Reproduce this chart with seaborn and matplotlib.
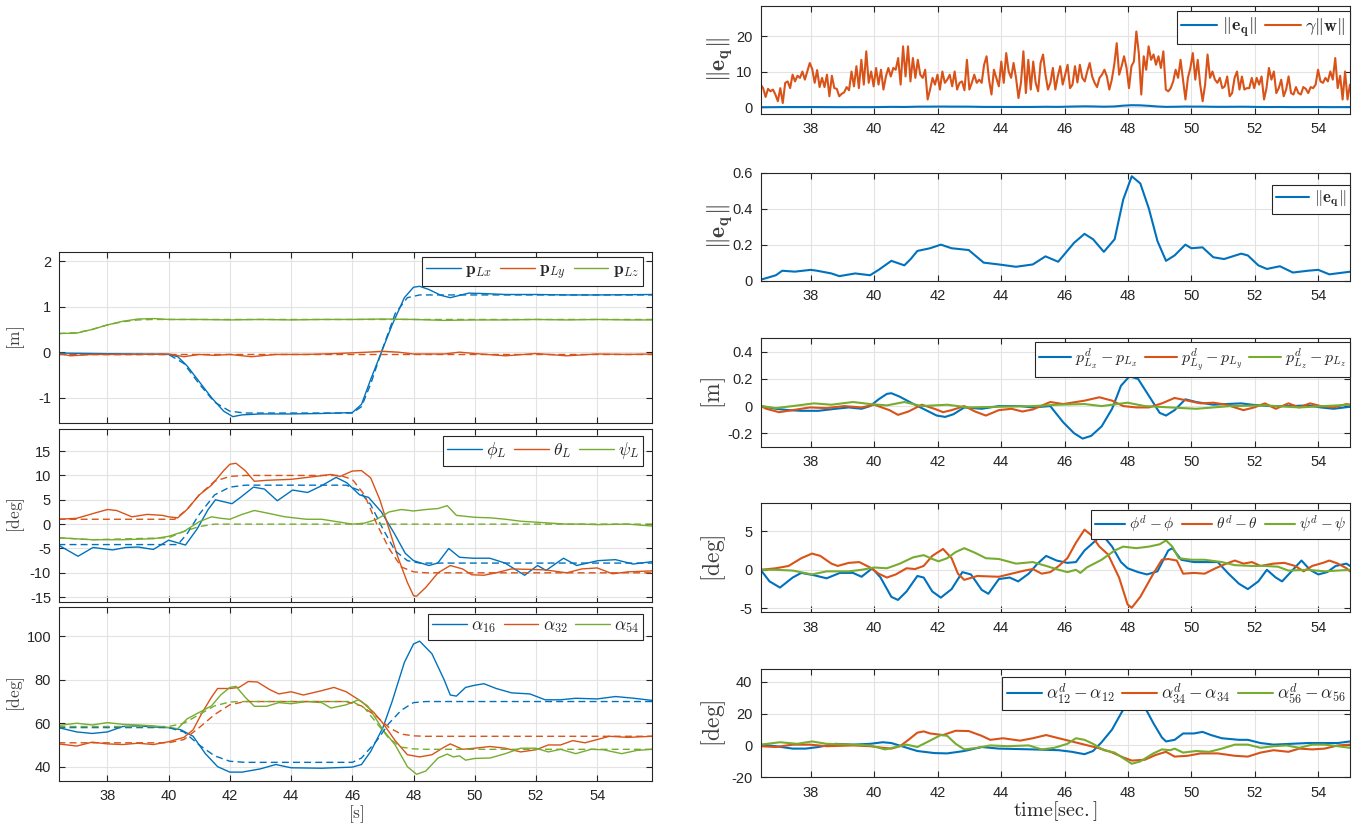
import numpy as np
import matplotlib
matplotlib.use("Agg")
import matplotlib.pyplot as plt
import seaborn as sns

# ---------------- data ----------------
# left column, panel 1: load position [m]
plx_t = [36.4, 40.0, 40.3, 40.6, 41.0, 41.4, 41.8, 42.1, 42.4, 43.0, 44.0, 45.0, 46.0, 46.3, 46.6, 46.95,
         47.3, 47.7, 48.0, 48.2, 48.5, 48.9, 49.2, 49.5, 49.8, 50.3, 51.0, 52.0, 53.0, 54.0, 55.8]
plx_v = [-0.02, -0.05, -0.1, -0.3, -0.65, -1.0, -1.3, -1.42, -1.38, -1.36, -1.36, -1.35, -1.33, -1.15, -0.6, 0.0,
         0.6, 1.2, 1.43, 1.45, 1.38, 1.25, 1.2, 1.25, 1.3, 1.29, 1.27, 1.27, 1.26, 1.26, 1.27]
plx_ref_t = [36.4, 40.0, 40.5, 41.0, 41.5, 42.0, 42.5, 46.0, 46.3, 46.6, 47.0, 47.4, 47.8, 48.2, 55.8]
plx_ref_v = [-0.05, -0.05, -0.25, -0.7, -1.1, -1.3, -1.34, -1.34, -1.2, -0.7, 0.1, 0.85, 1.2, 1.26, 1.26]
ply_t = [36.4, 36.8, 37.5, 39.0, 40.0, 40.5, 41.0, 41.5, 42.0, 42.7, 43.5, 44.5, 45.5, 46.5, 47.0, 47.5,
         48.0, 49.0, 49.5, 50.0, 51.0, 52.0, 53.0, 54.0, 55.0, 55.8]
ply_v = [-0.03, -0.08, -0.05, -0.05, -0.04, -0.1, -0.05, -0.07, -0.05, -0.1, -0.05, -0.05, -0.03, 0.0, 0.02, 0.0,
         -0.04, -0.04, 0.0, -0.03, -0.08, -0.03, -0.08, -0.04, -0.05, -0.04]
ply_ref_t = [36.4, 55.8]
ply_ref_v = [-0.05, -0.05]
plz_t = [36.4, 37.0, 37.5, 38.0, 38.5, 39.0, 39.5, 40.0, 41.0, 42.0, 43.0, 44.0, 45.0, 46.0, 47.0, 48.0,
         49.0, 50.0, 51.0, 52.0, 53.0, 54.0, 55.0, 55.8]
plz_v = [0.41, 0.42, 0.5, 0.6, 0.68, 0.73, 0.74, 0.72, 0.72, 0.71, 0.72, 0.71, 0.72, 0.72, 0.73, 0.72,
         0.7, 0.71, 0.71, 0.72, 0.71, 0.72, 0.71, 0.71]
plz_ref_t = [36.4, 37.0, 37.5, 38.0, 38.5, 39.0, 39.5, 40.0, 55.8]
plz_ref_v = [0.41, 0.43, 0.5, 0.6, 0.67, 0.71, 0.72, 0.72, 0.72]

# left column, panel 2: load attitude [deg]
phi_t = [36.4, 37.04, 37.53, 38.17, 38.6, 39.0, 39.5, 40.0, 40.55, 40.93, 41.29, 41.53, 42.07, 42.35, 42.77,
         43.13, 43.55, 44.05, 44.54, 44.97, 45.47, 45.82, 46.24, 46.53, 46.95, 47.38, 47.73, 48.0, 48.5, 48.79,
         49.15, 49.5, 49.93, 50.49, 50.99, 51.63, 52.05, 52.33, 52.9, 53.33, 54.03, 54.6, 55.17, 55.8]
phi_v = [-4.3, -6.6, -4.8, -5.3, -4.8, -4.7, -5.2, -3.3, -4.3, -1.0, 3.0, 5.0, 4.2, 5.5, 7.6,
         7.2, 4.8, 7.0, 6.5, 7.8, 9.6, 8.5, 6.0, 5.5, 2.5, -2.0, -6.0, -7.5, -8.5, -8.0,
         -5.0, -6.8, -7.0, -7.0, -8.0, -10.5, -8.5, -9.5, -7.0, -8.5, -7.5, -7.3, -8.2, -7.7]
phi_ref_t = [36.4, 40.3, 40.6, 41.0, 41.5, 42.0, 42.5, 45.8, 46.2, 46.6, 47.0, 47.4, 47.8, 48.2, 55.8]
phi_ref_v = [-4.2, -4.2, -2.0, 2.0, 6.0, 7.6, 8.0, 8.0, 7.0, 4.0, -1.0, -5.5, -7.5, -8.0, -8.0]
theta_t = [36.4, 37.0, 37.6, 38.0, 38.3, 38.8, 39.3, 39.8, 40.0, 40.3, 40.6, 41.0, 41.4, 41.8, 42.0, 42.2,
           42.5, 42.8, 43.2, 44.0, 44.8, 45.3, 45.6, 46.0, 46.3, 46.6, 46.9, 47.2, 47.5, 47.8, 48.0, 48.1,
           48.4, 48.8, 49.2, 49.6, 49.9, 50.3, 50.7, 51.2, 51.8, 52.3, 53.0, 53.5, 54.0, 54.5, 55.0, 55.8]
theta_v = [1.0, 1.2, 2.3, 3.0, 2.8, 1.5, 2.0, 1.8, 1.5, 1.3, 3.0, 6.0, 8.0, 11.0, 12.3, 12.5,
           11.0, 8.8, 9.0, 9.2, 9.8, 10.2, 9.8, 10.9, 11.0, 9.5, 5.0, -1.0, -7.0, -12.0, -14.7, -14.8,
           -13.0, -10.0, -8.5, -9.2, -10.4, -10.5, -10.0, -9.2, -9.3, -9.4, -10.0, -9.2, -9.0, -10.2, -9.8, -9.6]
theta_ref_t = [36.4, 40.2, 40.6, 41.0, 41.5, 42.0, 42.5, 45.6, 46.0, 46.4, 46.8, 47.2, 47.6, 48.0, 48.4, 55.8]
theta_ref_v = [1.0, 1.0, 3.0, 6.0, 8.8, 9.8, 10.0, 10.0, 9.2, 6.0, 0.0, -5.0, -8.8, -9.8, -10.0, -10.0]
psi_t = [36.4, 37.5, 38.5, 39.5, 40.0, 40.5, 41.0, 41.4, 41.7, 42.0, 42.4, 42.8, 43.2, 43.8, 44.5, 45.0,
         45.5, 46.0, 46.4, 46.8, 47.2, 47.6, 48.0, 48.4, 48.8, 49.1, 49.4, 50.0, 50.5, 51.0, 51.5, 52.0,
         52.5, 53.0, 53.5, 54.0, 55.0, 55.8]
psi_v = [-2.8, -3.2, -3.2, -3.0, -2.5, -1.5, 0.5, 1.5, 1.2, 1.0, 2.0, 2.8, 2.3, 1.5, 1.0, 1.0,
         0.5, 0.0, 0.2, 1.0, 2.5, 3.0, 2.7, 3.0, 3.2, 3.8, 1.8, 1.4, 1.3, 1.0, 0.6, 0.4,
         0.2, 0.0, 0.0, -0.1, 0.0, -0.4]
psi_ref_t = [36.4, 37.5, 40.0, 40.5, 41.0, 41.5, 55.8]
psi_ref_v = [-2.8, -3.2, -2.8, -1.5, -0.5, 0.0, 0.0]

# left column, panel 3: cable angles [deg]
a16_t = [36.4, 37.0, 37.5, 38.0, 38.5, 39.0, 39.5, 40.0, 40.4, 40.8, 41.2, 41.6, 42.0, 42.4, 43.0, 43.5,
         44.0, 45.0, 46.0, 46.3, 46.6, 47.0, 47.3, 47.7, 48.0, 48.2, 48.6, 49.0, 49.2, 49.4, 49.7, 50.0,
         50.3, 50.7, 51.2, 51.8, 52.3, 52.8, 53.3, 54.0, 54.6, 55.2, 55.8]
a16_v = [58, 56, 55.3, 56, 58.5, 58.8, 58.3, 58.0, 57, 54, 46, 40, 37.5, 37.5, 39, 41,
         39.5, 39.3, 39.8, 41, 47, 58, 70, 88, 96.5, 97.8, 92, 80, 73, 72.5, 76.5, 77.5,
         78.2, 76, 74, 73.5, 70.8, 70.8, 71.5, 71.2, 72.3, 71.5, 70.5]
a16_ref_t = [36.4, 40.0, 40.5, 41.0, 41.5, 42.0, 42.5, 46.0, 46.3, 46.8, 47.2, 47.6, 48.0, 48.4, 55.8]
a16_ref_v = [58, 58, 56, 50, 45, 42.5, 42, 42, 44, 52, 60, 66, 69.5, 70, 70]
a32_t = [36.4, 37.0, 37.5, 38.0, 38.5, 39.0, 39.5, 40.0, 40.5, 40.8, 41.1, 41.4, 41.6, 42.0, 42.3, 42.6,
         42.9, 43.3, 43.6, 44.0, 44.4, 45.0, 45.4, 45.8, 46.3, 46.7, 47.0, 47.4, 47.8, 48.2, 48.6, 49.0,
         49.2, 49.6, 50.0, 50.5, 51.0, 51.5, 52.0, 52.4, 52.8, 53.2, 53.6, 54.0, 54.4, 55.0, 55.8]
a32_v = [50.5, 49.5, 51.3, 50.5, 50.2, 50.8, 50.2, 51.5, 53.5, 57, 65, 72, 76, 76, 76.5, 79.2,
         79, 75.5, 73.5, 74.5, 73, 75, 76.5, 74.5, 70, 65, 60, 52, 45.5, 44.5, 45.5, 49,
         50.5, 48.0, 48.5, 49.3, 48.5, 46.8, 47.8, 50, 50, 52, 51, 52.5, 54, 53.5, 54]
a32_ref_t = [36.4, 40.0, 40.5, 41.0, 41.5, 42.0, 42.5, 45.8, 46.3, 46.8, 47.2, 47.6, 48.0, 48.4, 55.8]
a32_ref_v = [51, 51, 52.5, 58, 64, 68.5, 70, 70, 68, 63, 58, 55, 54.2, 54, 54]
a54_t = [36.4, 37.0, 37.5, 38.0, 38.5, 39.0, 39.5, 40.0, 40.3, 40.6, 41.0, 41.4, 41.7, 42.0, 42.2, 42.5,
         42.8, 43.2, 43.6, 44.0, 44.5, 45.0, 45.3, 45.8, 46.2, 46.5, 47.0, 47.4, 47.8, 48.1, 48.4, 48.8,
         49.1, 49.3, 49.5, 49.7, 50.0, 50.5, 51.0, 51.5, 52.0, 52.4, 52.8, 53.3, 53.8, 54.2, 54.8, 55.3, 55.8]
a54_v = [59, 60.0, 59.2, 60.3, 59.5, 59.2, 58.8, 58, 57.5, 62, 65, 68, 73, 76.5, 77, 72,
         67.8, 67.8, 69.5, 69, 70, 69.5, 67, 68.5, 70.8, 68, 57, 50, 40, 36.5, 38, 44,
         45.8, 44.5, 45, 43, 43.8, 44, 46, 48.5, 48.5, 46.8, 48, 46, 48, 47.8, 46, 47.5, 48]
a54_ref_t = [36.4, 40.0, 40.5, 41.0, 41.5, 42.0, 42.5, 46.0, 46.4, 46.8, 47.2, 47.6, 48.0, 48.4, 55.8]
a54_ref_v = [58.5, 58.5, 60, 64, 68, 69.8, 70, 70, 67, 60, 53, 49, 48.2, 48, 48]

# right column, panel A/B: ||e_q|| and gamma ||w||
eq_t = [36.42, 36.9, 37.1, 37.5, 38.0, 38.2, 38.65, 38.9, 39.4, 39.87, 40.14, 40.54, 40.95, 41.15, 41.36,
        41.76, 42.1, 42.44, 42.98, 43.45, 43.93, 44.47, 45.0, 45.4, 45.8, 46.3, 46.63, 46.9, 47.24, 47.58,
        47.85, 48.12, 48.39, 48.66, 48.93, 49.2, 49.47, 49.81, 50.0, 50.35, 50.69, 51.03, 51.57, 51.78,
        52.11, 52.38, 52.79, 53.2, 53.67, 54.0, 54.35, 55.02]
eq_v = [0.005, 0.03, 0.055, 0.05, 0.06, 0.055, 0.04, 0.025, 0.04, 0.03, 0.06, 0.11, 0.085, 0.12, 0.165,
        0.18, 0.20, 0.18, 0.17, 0.10, 0.09, 0.077, 0.09, 0.135, 0.105, 0.21, 0.26, 0.23, 0.16, 0.23,
        0.45, 0.58, 0.54, 0.40, 0.22, 0.11, 0.14, 0.20, 0.18, 0.185, 0.13, 0.12, 0.15, 0.14,
        0.085, 0.065, 0.08, 0.045, 0.055, 0.06, 0.035, 0.05]
gw_v = [6.4, 5.4, 2.9, 5.2, 4.5, 5.0, 3.6, 1.7, 5.4, 1.2, 6.9, 7.3, 5.4, 9.2, 7.3, 8.9, 8.3, 10.1, 7.8, 10.1,
        12.5, 10.8, 6.9, 10.5, 5.7, 8.3, 5.7, 9.2, 3.1, 8.9, 5.4, 5.2, 3.1, 3.8, 4.2, 5.7, 4.8, 10.1, 5.9, 11.6,
        5.4, 13.4, 6.4, 15.8, 6.9, 10.1, 5.9, 11.1, 6.4, 10.6, 5.0, 8.7, 11.1, 8.7, 11.1, 10.6, 13.9, 6.4, 17.2,
        8.7, 17.2, 7.3, 13.9, 8.3, 13.4, 9.2, 8.3, 10.6, 2.2, 5.0, 8.3, 6.4, 9.2, 5.0, 10.1, 6.9, 7.8, 9.2, 5.9,
        10.1, 5.0, 6.9, 7.3, 4.8, 13.4, 5.0, 6.9, 9.2, 6.9, 7.8, 6.9, 12.0, 14.4, 7.8, 3.6, 10.6, 8.3, 5.9,
        12.9, 6.9, 15.3, 10.1, 8.3, 12.5, 8.3, 2.6, 6.9, 15.8, 4.0, 13.4, 5.0, 12.9, 6.9, 4.5, 12.5, 14.9, 9.2,
        5.0, 6.9, 11.1, 5.0, 8.7, 11.6, 6.4, 9.2, 12.0, 5.4, 6.4, 11.6, 7.0, 12.0, 8.3, 7.3, 10.1, 12.5, 8.7,
        6.9, 5.7, 8.3, 9.2, 10.6, 8.7, 5.0, 7.8, 12.0, 18.1, 9.2, 11.6, 14.4, 11.1, 5.4, 11.6, 12.9, 21.4,
        15.3, 3.6, 14.4, 10.6, 17.2, 13.4, 14.9, 12.0, 14.4, 11.1, 15.8, 5.0, 4.5, 5.4, 7.3, 10.6, 8.3, 13.4,
        7.8, 2.2, 8.3, 11.1, 15.3, 7.8, 13.4, 6.4, 1.7, 6.4, 14.9, 8.3, 10.1, 7.8, 6.9, 8.3, 5.4, 5.9, 8.7,
        3.1, 4.0, 8.3, 10.1, 5.0, 8.7, 5.0, 5.4, 5.4, 8.3, 5.4, 8.3, 6.4, 8.7, 2.2, 5.4, 11.1, 7.8, 10.1, 4.0,
        5.4, 7.8, 3.1, 5.0, 8.7, 4.0, 3.6, 5.7, 4.0, 3.6, 5.7, 5.2, 4.0, 5.7, 5.4, 6.4, 10.6, 7.3, 6.9, 8.3,
        7.3, 10.1, 7.8, 13.9, 5.4, 8.9, 2.2, 10.1, 2.2, 6.4]
gw_t = np.linspace(36.42, 55.0, len(gw_v))  # sampling grid

# right column, panel C: position errors [m]
ex_t = [36.42, 36.9, 37.3, 37.7, 38.24, 38.78, 39.2, 39.6, 39.87, 40.14, 40.4, 40.54, 40.8, 41.2, 41.63,
        41.97, 42.24, 42.5, 42.84, 43.39, 43.93, 44.6, 45.0, 45.55, 45.96, 46.3, 46.57, 46.84, 47.17, 47.5,
        47.78, 48.05, 48.32, 48.73, 49.0, 49.2, 49.47, 49.81, 50.15, 50.69, 51.1, 51.57, 51.91, 52.45,
        53.13, 53.67, 54.08, 54.48, 55.0]
ex_v = [0.0, -0.02, -0.03, -0.035, -0.035, -0.02, -0.01, -0.02, 0.0, 0.05, 0.09, 0.095, 0.07, 0.02, -0.03,
        -0.07, -0.08, -0.06, -0.01, -0.02, 0.0, 0.0, -0.01, 0.0, -0.12, -0.2, -0.24, -0.22, -0.15, -0.02,
        0.15, 0.22, 0.2, 0.05, -0.05, -0.07, -0.03, 0.05, 0.03, 0.01, 0.015, 0.02, 0.01, 0.0,
        0.0, 0.005, -0.01, -0.02, -0.005]
ey_t = [36.42, 36.6, 37.0, 37.43, 37.97, 38.5, 39.06, 39.6, 40.0, 40.48, 40.75, 41.08, 41.5, 41.9, 42.17,
        42.44, 42.84, 43.18, 43.52, 43.93, 44.33, 44.67, 45.0, 45.55, 45.96, 46.63, 47.1, 47.5, 47.85, 48.26,
        48.66, 49.07, 49.47, 49.88, 50.29, 50.69, 51.1, 51.64, 51.98, 52.32, 52.66, 53.06, 53.4, 53.74,
        54.08, 54.48, 54.89, 55.0]
ey_v = [0.0, -0.02, -0.045, -0.03, -0.01, -0.015, 0.0, -0.01, 0.01, -0.03, -0.065, -0.04, 0.01, -0.02, -0.045,
        -0.03, 0.0, -0.04, -0.07, -0.03, -0.02, -0.04, -0.025, 0.03, 0.015, 0.04, 0.065, 0.04, 0.0, -0.01,
        -0.01, 0.02, 0.06, 0.04, 0.02, 0.025, 0.01, -0.03, -0.01, 0.02, -0.02, 0.02, -0.01, 0.02,
        0.0, -0.01, 0.015, 0.01]
ez_t = [36.42, 36.9, 37.43, 38.1, 38.65, 39.33, 39.87, 40.4, 40.95, 41.5, 42.3, 42.98, 43.93, 45.0, 45.8,
        46.63, 47.17, 47.99, 48.53, 49.34, 50.15, 51.23, 52.32, 53.4, 54.2, 55.0]
ez_v = [0.0, -0.015, 0.0, 0.02, 0.01, 0.03, 0.015, 0.005, 0.03, 0.0, 0.01, -0.01, -0.005, 0.0, 0.01,
        0.015, 0.0, 0.025, 0.0, -0.01, -0.02, 0.0, 0.005, -0.01, 0.0, 0.01]

# right column, panel D: attitude errors [deg]
ephi_t = [36.42, 36.7, 37.03, 37.43, 37.7, 38.1, 38.5, 38.92, 39.33, 39.6, 39.94, 40.2, 40.54, 40.75, 41.02,
          41.36, 41.56, 41.83, 42.1, 42.44, 42.78, 43.05, 43.39, 43.6, 43.93, 44.27, 44.54, 44.87, 45.15,
          45.42, 45.75, 46.09, 46.36, 46.63, 47.04, 47.24, 47.5, 47.78, 47.99, 48.32, 48.6, 48.93, 49.27,
          49.4, 49.68, 50.08, 50.42, 50.83, 51.17, 51.5, 51.78, 52.11, 52.38, 52.66, 52.86, 53.2, 53.47,
          53.74, 54.0, 54.28, 54.55, 54.89, 55.0]
ephi_v = [0.0, -1.5, -2.3, -1.0, -0.4, -0.7, -1.1, -0.4, -0.4, -0.9, 0.2, -1.0, -3.5, -3.9, -2.8,
          -0.8, -1.0, -2.8, -3.6, -2.5, -0.3, -0.6, -2.6, -3.1, -1.2, -1.0, -1.5, -0.5, 0.8,
          1.8, 1.2, 0.9, 1.0, 2.5, 4.0, 4.3, 3.0, 1.0, 0.2, -0.3, -0.6, -0.2, 2.5,
          2.8, 1.3, 1.0, 1.0, 1.0, -0.5, -1.8, -2.5, -1.5, 0.0, -1.0, -1.5, 0.0, 1.2,
          0.0, -0.6, -0.3, 0.5, 0.8, 0.5]
etheta_t = [36.42, 36.9, 37.3, 37.7, 38.04, 38.3, 38.65, 38.85, 39.2, 39.53, 39.87, 40.14, 40.4, 40.68,
            41.02, 41.29, 41.56, 41.83, 42.17, 42.44, 42.64, 42.84, 43.25, 43.93, 44.33, 44.74, 45.0, 45.28,
            45.55, 45.82, 46.09, 46.36, 46.63, 46.84, 47.1, 47.37, 47.72, 47.99, 48.12, 48.39, 48.8, 49.07,
            49.27, 49.54, 49.74, 50.08, 50.42, 50.76, 51.1, 51.37, 51.64, 51.91, 52.18, 52.59, 52.93, 53.27,
            53.54, 53.81, 54.15, 54.35, 54.62, 54.89, 55.0]
etheta_v = [0.0, 0.2, 0.5, 1.5, 2.1, 1.8, 0.8, 0.5, 0.9, 1.0, 0.3, -0.5, -1.0, -0.6,
            0.2, 0.1, 0.5, 1.8, 2.7, 1.5, -0.5, -1.3, -0.8, -0.9, -0.5, -0.1, 0.1, -0.5,
            -0.3, 0.5, 1.5, 3.5, 5.2, 4.5, 3.0, 2.0, -1.0, -4.5, -4.9, -3.5, -0.5, 1.3,
            1.4, 1.2, -0.5, -0.4, -0.5, 0.2, 0.8, 1.2, 0.8, 1.0, 0.5, 0.8, 0.9, 0.5,
            -0.2, 0.5, 0.9, 1.2, 0.8, 0.2, -0.2]
epsi_t = [36.42, 36.9, 37.43, 38.04, 38.5, 39.2, 39.6, 40.0, 40.4, 40.81, 41.22, 41.56, 41.83, 42.03, 42.3,
          42.57, 42.84, 43.18, 43.52, 43.93, 44.47, 45.0, 45.42, 45.82, 46.09, 46.36, 46.5, 46.7, 47.17,
          47.58, 47.85, 48.26, 48.66, 49.0, 49.2, 49.4, 49.6, 50.0, 50.42, 50.96, 51.37, 51.91, 52.32,
          52.73, 53.06, 53.67, 54.2, 55.0]
epsi_v = [0.0, 0.0, -0.1, -0.6, -0.2, -0.2, 0.0, 0.3, 0.2, 0.8, 1.6, 1.9, 1.4, 1.1, 1.5,
          2.3, 2.8, 2.2, 1.5, 1.4, 0.8, 1.0, 0.5, 0.0, -0.3, 0.0, -0.4, 0.3, 1.3,
          2.5, 3.0, 2.8, 3.0, 3.3, 3.8, 3.0, 1.5, 1.3, 1.3, 1.0, 0.6, 0.5, 0.5,
          0.4, -0.1, 0.0, -0.2, 0.0]

# right column, panel E: cable angle errors [deg]
e12_t = [36.42, 36.9, 37.43, 37.84, 38.24, 38.78, 39.33, 39.87, 40.27, 40.54, 40.95, 41.36, 41.9, 42.3,
         42.84, 43.39, 43.93, 45.0, 45.82, 46.23, 46.63, 46.9, 47.17, 47.5, 47.78, 47.99, 48.26, 48.53,
         48.8, 49.07, 49.2, 49.47, 49.74, 50.08, 50.35, 50.62, 50.96, 51.5, 51.78, 52.18, 52.59, 53.13,
         53.67, 54.2, 54.62, 55.0]
e12_v = [0.5, -0.5, -2.0, -2.0, -1.0, 1.0, 0.5, 1.0, 2.0, 1.5, -1.0, -3.5, -4.8, -5.0,
         -3.5, -1.0, -2.0, -2.5, -3.0, -4.0, -5.5, -3.5, 2.0, 10.0, 20.0, 27.0, 28.0, 24.0,
         14.0, 5.0, 2.5, 3.5, 7.5, 7.5, 8.5, 6.5, 4.5, 3.5, 3.5, 1.5, 0.5, 1.0,
         1.5, 1.5, 1.5, 2.5]
e34_t = [36.42, 36.9, 37.43, 37.97, 38.5, 39.33, 39.87, 40.27, 40.54, 40.81, 41.08, 41.36, 41.56, 41.76,
         42.17, 42.57, 42.98, 43.39, 43.66, 44.06, 44.6, 45.0, 45.42, 45.82, 46.23, 46.63, 47.04, 47.45,
         47.85, 48.12, 48.53, 48.87, 49.2, 49.47, 49.88, 50.29, 50.83, 51.37, 51.78, 52.18, 52.59, 53.06,
         53.4, 53.81, 54.2, 54.62, 55.0]
e34_v = [-0.5, -1.0, 0.5, 0.5, -0.5, 0.0, -0.5, -1.5, -2.0, -0.5, 3.5, 8.0, 8.8, 7.5,
         6.5, 9.2, 9.0, 6.0, 3.5, 4.5, 3.0, 4.5, 6.5, 4.5, 2.5, 0.5, -1.5, -4.0,
         -7.5, -9.5, -9.0, -6.0, -4.0, -7.0, -6.5, -5.0, -5.0, -6.5, -7.0, -4.5, -3.0, -4.0,
         -2.0, -2.5, -2.0, 0.0, 0.5]
e56_t = [36.42, 37.03, 37.57, 38.04, 38.5, 39.33, 39.87, 40.34, 40.68, 41.02, 41.36, 41.76, 42.1, 42.3,
         42.57, 42.84, 43.25, 43.66, 44.2, 44.87, 45.28, 45.68, 46.09, 46.36, 46.63, 46.9, 47.24, 47.58,
         47.85, 48.12, 48.39, 48.8, 49.07, 49.34, 49.47, 49.74, 50.15, 50.56, 50.96, 51.37, 51.78, 52.18,
         52.59, 53.0, 53.4, 53.81, 54.2, 54.62, 55.0]
e56_v = [0.5, 2.0, 1.0, 2.5, 1.0, 0.5, 0.0, -2.5, -1.0, 0.5, -1.0, 3.0, 6.5, 6.0,
         1.0, -2.5, -1.5, 0.0, -0.5, 0.0, -2.5, -1.5, 1.0, 4.5, 3.5, 1.0, -3.0, -4.5,
         -8.0, -11.5, -10.0, -5.0, -2.5, -3.0, -2.0, -4.5, -3.5, -4.0, -2.0, 0.5, 0.5, -1.5,
         -0.5, 0.0, -1.5, 0.5, 0.5, -0.5, -1.5]

xticks = [38, 40, 42, 44, 46, 48, 50, 52, 54]

# ---------------- style ----------------
BLUE, ORANGE, GREEN = "#0072BD", "#D95319", "#77AC30"
sns.set_theme(style="whitegrid")
plt.rcParams.update({
    "font.family": ["Liberation Sans", "DejaVu Sans"],
    "mathtext.fontset": "cm",
    "axes.edgecolor": "#262626",
    "axes.linewidth": 0.8,
    "grid.color": "#e3e3e3",
    "grid.linewidth": 0.8,
    "xtick.bottom": True, "xtick.top": True,
    "ytick.left": True, "ytick.right": True,
    "xtick.direction": "in", "ytick.direction": "in",
    "xtick.major.size": 4, "ytick.major.size": 4,
    "xtick.major.width": 0.8, "ytick.major.width": 0.8,
    "xtick.color": "#262626", "ytick.color": "#262626",
    "xtick.labelsize": 10.5, "ytick.labelsize": 10.5,
    "xtick.major.pad": 6, "ytick.major.pad": 6,
})

fig = plt.figure(figsize=(13.61, 8.23), dpi=100)


def add_lines(ax, series, lw):
    for t, v, c, lab, dashed in series:
        kw = {"dashes": (5, 3)} if dashed else {}
        sns.lineplot(x=t, y=v, ax=ax, color=c, lw=lw, estimator=None, sort=False,
                     label=lab if lab else "_nolegend_", **kw)


def finish(ax, xlim, ylim, yticks, show_xlabels=True):
    ax.set_xlim(*xlim)
    ax.set_ylim(*ylim)
    ax.set_xticks(xticks)
    ax.set_yticks(yticks)
    ax.set_yticklabels([f"{y:g}" for y in yticks])
    if not show_xlabels:
        ax.set_xticklabels([])
    ax.grid(True)
    for s in ax.spines.values():
        s.set_visible(True)
        s.set_color("#262626")


def legend(ax, ncol, size, anchor, hl=2.0):
    leg = ax.legend(loc="upper right", bbox_to_anchor=anchor, ncol=ncol, fontsize=size,
                    frameon=True, fancybox=False, framealpha=1, edgecolor="#262626",
                    borderaxespad=0, handlelength=hl, handletextpad=0.25,
                    columnspacing=0.45, borderpad=0.25)
    leg.get_frame().set_linewidth(0.8)


# left column
L_X = (36.43, 55.8)
left_pos = [(0.0436, 0.486, 0.4357, 0.2075), (0.0436, 0.2685, 0.4357, 0.210), (0.0436, 0.051, 0.4357, 0.2114)]
axL = [fig.add_axes(p) for p in left_pos]

add_lines(axL[0], [
    (plx_t, plx_v, BLUE, r"$\mathbf{p}_{Lx}$", False),
    (ply_t, ply_v, ORANGE, r"$\mathbf{p}_{Ly}$", False),
    (plz_t, plz_v, GREEN, r"$\mathbf{p}_{Lz}$", False),
    (plx_ref_t, plx_ref_v, BLUE, None, True),
    (ply_ref_t, ply_ref_v, ORANGE, None, True),
    (plz_ref_t, plz_ref_v, GREEN, None, True),
], 1.0)
finish(axL[0], L_X, (-1.56, 2.2), [-1, 0, 1, 2], False)
legend(axL[0], 3, 12.5, (0.985, 0.97))

add_lines(axL[1], [
    (phi_t, phi_v, BLUE, r"$\phi_L$", False),
    (theta_t, theta_v, ORANGE, r"$\theta_L$", False),
    (psi_t, psi_v, GREEN, r"$\psi_L$", False),
    (phi_ref_t, phi_ref_v, BLUE, None, True),
    (theta_ref_t, theta_ref_v, ORANGE, None, True),
    (psi_ref_t, psi_ref_v, GREEN, None, True),
], 1.0)
finish(axL[1], L_X, (-16, 19.5), [-15, -10, -5, 0, 5, 10, 15], False)
legend(axL[1], 3, 12.5, (0.985, 0.96))

add_lines(axL[2], [
    (a16_t, a16_v, BLUE, r"$\alpha_{16}$", False),
    (a32_t, a32_v, ORANGE, r"$\alpha_{32}$", False),
    (a54_t, a54_v, GREEN, r"$\alpha_{54}$", False),
    (a16_ref_t, a16_ref_v, BLUE, None, True),
    (a32_ref_t, a32_ref_v, ORANGE, None, True),
    (a54_ref_t, a54_ref_v, GREEN, None, True),
], 1.0)
finish(axL[2], L_X, (33.4, 113.5), [40, 60, 80, 100])
legend(axL[2], 3, 12.5, (0.985, 0.96))

for ax, lab in zip(axL, [r"$\mathrm{[m]}$", r"$\mathrm{[deg]}$", r"$\mathrm{[deg]}$"]):
    ax.set_ylabel(lab, fontsize=12.5, color="#404040")
    ax.yaxis.set_label_coords(-0.054, 0.5)
axL[2].set_xlabel(r"$\mathrm{[s]}$", fontsize=12.5, color="#404040")
axL[2].xaxis.set_label_coords(0.5, -0.13)

# right column
R_X = (36.42, 55.0)
right_pos = [(0.5589, 0.8615, 0.433, 0.1312), (0.5589, 0.659, 0.433, 0.1312),
             (0.5589, 0.4572, 0.433, 0.1317), (0.5589, 0.256, 0.433, 0.1324),
             (0.5589, 0.0555, 0.433, 0.1312)]
axR = [fig.add_axes(p) for p in right_pos]
EQ = r"$\Vert\mathbf{e}_\mathbf{q}\Vert$"

add_lines(axR[0], [
    (eq_t, eq_v, BLUE, EQ, False),
    (gw_t, gw_v, ORANGE, r"$\gamma\Vert\mathbf{w}\Vert$", False),
], 1.5)
finish(axR[0], R_X, (-1.9, 28.6), [0, 10, 20])
legend(axR[0], 2, 13, (1.0, 0.955))

add_lines(axR[1], [(eq_t, eq_v, BLUE, EQ, False)], 1.5)
finish(axR[1], R_X, (0, 0.6), [0, 0.2, 0.4, 0.6])
legend(axR[1], 1, 12, (1.0, 0.89))

add_lines(axR[2], [
    (ex_t, ex_v, BLUE, r"$p^d_{L_x}-p_{L_x}$", False),
    (ey_t, ey_v, ORANGE, r"$p^d_{L_y}-p_{L_y}$", False),
    (ez_t, ez_v, GREEN, r"$p^d_{L_z}-p_{L_z}$", False),
], 1.5)
finish(axR[2], R_X, (-0.3, 0.5), [-0.2, 0, 0.2, 0.4])
legend(axR[2], 3, 11.5, (1.0, 0.965))

add_lines(axR[3], [
    (ephi_t, ephi_v, BLUE, r"$\phi^d-\phi$", False),
    (etheta_t, etheta_v, ORANGE, r"$\theta^d-\theta$", False),
    (epsi_t, epsi_v, GREEN, r"$\psi^d-\psi$", False),
], 1.5)
finish(axR[3], R_X, (-5.5, 8.6), [-5, 0, 5])
legend(axR[3], 3, 11, (1.0, 0.94))

add_lines(axR[4], [
    (e12_t, e12_v, BLUE, r"$\alpha^d_{12}-\alpha_{12}$", False),
    (e34_t, e34_v, ORANGE, r"$\alpha^d_{34}-\alpha_{34}$", False),
    (e56_t, e56_v, GREEN, r"$\alpha^d_{56}-\alpha_{56}$", False),
], 1.5)
finish(axR[4], R_X, (-20, 47.7), [-20, 0, 20, 40])
legend(axR[4], 3, 12.5, (1.0, 0.93))

for ax, lab in zip(axR, [EQ, EQ, r"$\mathrm{[m]}$", r"$\mathrm{[deg]}$", r"$\mathrm{[deg]}$"]):
    ax.set_ylabel(lab, fontsize=17, color="#404040")
    ax.yaxis.set_label_coords(-0.045 if lab == EQ else -0.055, 0.5)
axR[4].set_xlabel(r"$\mathrm{time[sec.]}$", fontsize=14.5, color="#262626")
axR[4].xaxis.set_label_coords(0.5, -0.2)

fig.savefig("out.png", dpi=100)
